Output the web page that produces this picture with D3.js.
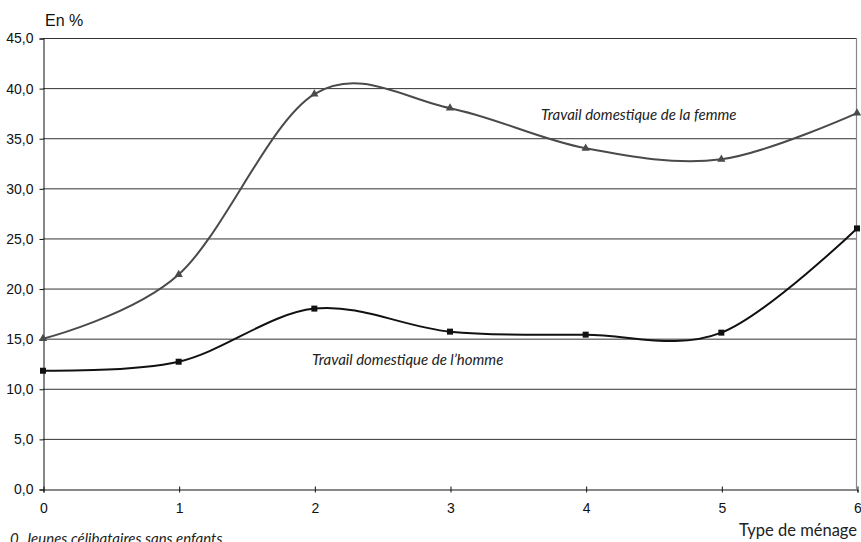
<!DOCTYPE html>
<html>
<head>
<meta charset="utf-8">
<script src="https://cdn.jsdelivr.net/npm/d3@7"></script>
<style>
  body { margin: 0; background: #fff; }
  svg { display: block; }
  .serif-label { font-family: Lato, "Open Sans", sans-serif; fill: #222; }
</style>
</head>
<body>
<div id="chart"></div>
<script>
const householdTypes = [0, 1, 2, 3, 4, 5, 6];
const femmeValues = [15.0, 21.4, 39.4, 38.0, 34.0, 32.9, 37.5];
const hommeValues = [11.8, 12.7, 18.0, 15.7, 15.4, 15.6, 26.0];
const yTicks = [0, 5, 10, 15, 20, 25, 30, 35, 40, 45];

const svgWidth = 861;
const svgHeight = 542;
const margin = { top: 38, right: 4, bottom: 53, left: 43 };
const sansFont = "'Liberation Sans', Arial, sans-serif";

const svg = d3.select("#chart").append("svg")
  .attr("width", svgWidth)
  .attr("height", svgHeight);

const x = d3.scaleLinear()
  .domain([0, 6])
  .range([margin.left, svgWidth - margin.right]);

const y = d3.scaleLinear()
  .domain([0, 45])
  .range([svgHeight - margin.bottom, margin.top]);

const fmt = v => v.toFixed(1).replace(".", ",");

// horizontal gridlines
svg.append("g")
  .selectAll("line")
  .data(yTicks.filter(d => d > 0))
  .join("line")
  .attr("x1", x(0))
  .attr("x2", x(6))
  .attr("y1", d => y(d) + 0.5)
  .attr("y2", d => y(d) + 0.5)
  .attr("stroke", "#333")
  .attr("stroke-width", 1);

// right border
svg.append("line")
  .attr("x1", x(6) - 0.5).attr("x2", x(6) - 0.5)
  .attr("y1", y(45)).attr("y2", y(0))
  .attr("stroke", "#888")
  .attr("stroke-width", 1.2);

// y axis
const yAxis = svg.append("g")
  .attr("transform", `translate(${x(0) + 0.5},0.5)`)
  .call(d3.axisLeft(y).tickValues(yTicks).tickFormat(fmt).tickSize(4).tickPadding(6));
yAxis.attr("font-family", sansFont).attr("font-size", 14);
yAxis.select(".domain").attr("stroke", "#111");
yAxis.selectAll(".tick line").attr("stroke", "#111");
yAxis.selectAll(".tick text").attr("fill", "#111");

// x axis
const xAxis = svg.append("g")
  .attr("transform", `translate(0.5,${y(0) + 0.5})`)
  .call(d3.axisBottom(x).tickValues(householdTypes).tickFormat(d3.format("d")).tickSize(3).tickPadding(11));
xAxis.attr("font-family", sansFont).attr("font-size", 14);
xAxis.select(".domain").attr("stroke", "#111");
xAxis.selectAll(".tick line").attr("stroke", "#111").attr("y1", -3);
xAxis.selectAll(".tick text").attr("fill", "#111");

const line = d3.line()
  .x((d, i) => x(householdTypes[i]))
  .y(d => y(d))
  .curve(d3.curveCardinal.tension(0));

// femme series
svg.append("path")
  .datum(femmeValues)
  .attr("fill", "none")
  .attr("stroke", "#4a4a4a")
  .attr("stroke-width", 2)
  .attr("d", line);

svg.append("g")
  .selectAll("path")
  .data(femmeValues)
  .join("path")
  .attr("transform", (d, i) => `translate(${x(householdTypes[i])},${y(d)})`)
  .attr("d", d3.symbol(d3.symbolTriangle, 30))
  .attr("fill", "#4a4a4a");

// homme series
svg.append("path")
  .datum(hommeValues)
  .attr("fill", "none")
  .attr("stroke", "#111")
  .attr("stroke-width", 2)
  .attr("d", line);

svg.append("g")
  .selectAll("rect")
  .data(hommeValues)
  .join("rect")
  .attr("x", (d, i) => x(householdTypes[i]) - 3)
  .attr("y", d => y(d) - 3)
  .attr("width", 6)
  .attr("height", 6)
  .attr("fill", "#111");

// series labels
svg.append("text")
  .attr("class", "serif-label")
  .attr("x", 541).attr("y", 120)
  .attr("font-size", 15)
  .attr("font-style", "italic")
  .text("Travail domestique de la femme");

svg.append("text")
  .attr("class", "serif-label")
  .attr("x", 312).attr("y", 365)
  .attr("font-size", 15)
  .attr("font-style", "italic")
  .text("Travail domestique de l\u2019homme");

// axis titles
svg.append("text")
  .attr("font-family", sansFont)
  .attr("font-size", 16)
  .attr("fill", "#111")
  .attr("x", 45).attr("y", 26)
  .text("En %");

svg.append("text")
  .attr("class", "serif-label")
  .attr("x", 857).attr("y", 536)
  .attr("text-anchor", "end")
  .attr("font-size", 16.5)
  .text("Type de ménage");

svg.append("text")
  .attr("class", "serif-label")
  .attr("x", 10).attr("y", 544)
  .attr("font-size", 15)
  .attr("font-style", "italic")
  .text("0. Jeunes célibataires sans enfants");
</script>
</body>
</html>
